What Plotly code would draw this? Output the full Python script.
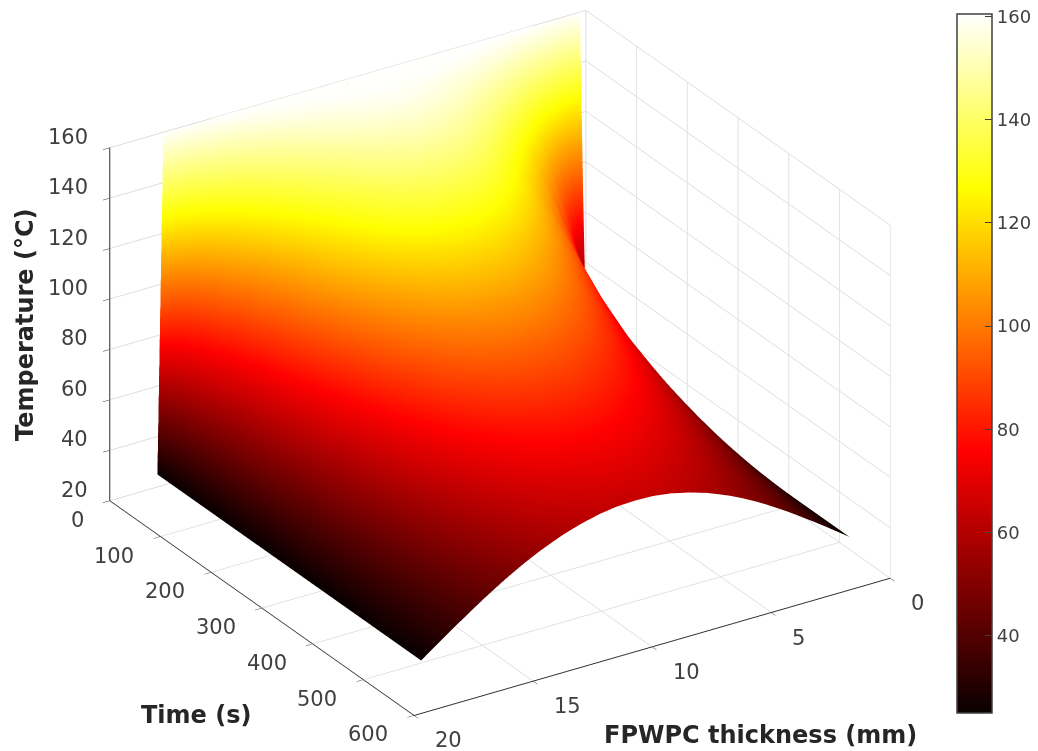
import plotly.graph_objects as go

thickness_mm = [0, 0.25, 0.5, 1, 1.5, 2, 2.5, 3, 3.5, 4, 4.5, 5, 5.5, 6, 6.75, 7.5, 8.25, 9,
                9.75, 10.5, 11.25, 12, 12.5, 13, 13.5, 14, 14.5, 15, 15.5, 16, 16.5, 17, 17.5, 17.75, 18]
time_s = [0, 5, 15, 30, 60, 100, 150, 200, 260, 320, 380, 450, 520]
temperature_c = [
    [25, 160, 160, 160, 160, 160, 160, 160, 160, 160, 160, 160, 160, 160, 160, 160, 160, 160, 160, 160, 160, 160, 160, 160, 160, 160, 160, 160, 160, 160, 160, 160, 160, 160, 25],
    [25, 52.5, 78.2, 119.1, 143.7, 154.7, 158.7, 159.7, 160, 160, 160, 160, 160, 160, 160, 160, 160, 160, 160, 160, 160, 160, 160, 160, 160, 160, 160, 159.7, 158.7, 154.7, 143.7, 119.1, 78.2, 52.5, 25],
    [25, 41.0, 56.6, 85.6, 109.9, 128.5, 141.8, 150.0, 155.0, 157.7, 159.1, 159.6, 159.9, 160, 160, 160, 160, 160, 160, 160, 160, 160, 159.9, 159.6, 159.1, 157.7, 155.0, 150.0, 141.8, 128.5, 109.9, 85.6, 56.6, 41.0, 25],
    [25, 36.3, 47.5, 69.1, 88.9, 106.1, 120.7, 132.2, 141.0, 147.7, 152.2, 155.3, 157.3, 158.5, 159.4, 159.7, 159.9, 160, 159.9, 159.7, 159.4, 158.5, 157.3, 155.3, 152.2, 147.7, 141.0, 132.2, 120.7, 106.1, 88.9, 69.1, 47.5, 36.3, 25],
    [25, 33.0, 40.9, 56.6, 71.6, 85.6, 98.4, 109.9, 119.9, 128.5, 135.7, 141.8, 146.4, 150.0, 153.9, 156.4, 157.6, 158.1, 157.6, 156.4, 153.9, 150.0, 146.4, 141.8, 135.7, 128.5, 119.9, 109.9, 98.4, 85.6, 71.6, 56.6, 40.9, 33.0, 25],
    [25, 31.2, 37.4, 49.7, 61.6, 73.1, 83.9, 94.1, 103.6, 112.0, 119.5, 126.1, 132.0, 136.9, 142.9, 146.9, 149.2, 149.9, 149.2, 146.9, 142.9, 136.9, 132.0, 126.1, 119.5, 112.0, 103.6, 94.1, 83.9, 73.1, 61.6, 49.7, 37.4, 31.2, 25],
    [25, 30.1, 35.1, 45.2, 55.1, 64.6, 73.7, 82.5, 90.9, 98.4, 105.6, 112.2, 117.8, 122.7, 129.0, 133.4, 136.0, 136.3, 136.0, 133.4, 129.0, 122.7, 117.8, 112.2, 105.6, 98.4, 90.9, 82.5, 73.7, 64.6, 55.1, 45.2, 35.1, 30.1, 25],
    [25, 29.2, 33.5, 41.9, 50.1, 58.2, 66.0, 73.6, 80.7, 87.4, 93.7, 99.4, 104.5, 109.1, 114.7, 118.8, 121.3, 121.8, 121.3, 118.8, 114.7, 109.1, 104.5, 99.4, 93.7, 87.4, 80.7, 73.6, 66.0, 58.2, 50.1, 41.9, 33.5, 29.2, 25],
    [25, 28.6, 32.1, 39.2, 46.2, 53.0, 59.6, 66.0, 72.0, 77.6, 82.9, 87.7, 92.1, 95.9, 100.7, 104.1, 106.2, 106.9, 106.2, 104.1, 100.7, 95.9, 92.1, 87.7, 82.9, 77.6, 72.0, 66.0, 59.6, 53.0, 46.2, 39.2, 32.1, 28.6, 25],
    [25, 28.0, 31.0, 37.0, 42.9, 48.6, 54.2, 59.5, 64.6, 69.4, 73.8, 77.9, 81.5, 84.8, 88.7, 91.6, 93.4, 94.0, 93.4, 91.6, 88.7, 84.8, 81.5, 77.9, 73.8, 69.4, 64.6, 59.5, 54.2, 48.6, 42.9, 37.0, 31.0, 28.0, 25],
    [25, 27.5, 30.1, 35.1, 40.0, 44.9, 49.6, 54.1, 58.3, 62.3, 66.1, 69.5, 72.6, 75.3, 78.7, 81.1, 82.6, 83.1, 82.6, 81.1, 78.7, 75.3, 72.6, 69.5, 66.1, 62.3, 58.3, 54.1, 49.6, 44.9, 40.0, 35.1, 30.1, 27.5, 25],
    [25, 27.1, 29.2, 33.3, 37.3, 41.3, 45.1, 48.8, 52.3, 55.6, 58.7, 61.5, 64.0, 66.2, 69.0, 71.0, 72.2, 72.6, 72.2, 71.0, 69.0, 66.2, 64.0, 61.5, 58.7, 55.6, 52.3, 48.8, 45.1, 41.3, 37.3, 33.3, 29.2, 27.1, 25],
    [25, 26.7, 28.4, 31.8, 35.1, 38.3, 41.5, 44.5, 47.4, 50.1, 52.6, 54.9, 56.9, 58.8, 61.0, 62.7, 63.7, 64.0, 63.7, 62.7, 61.0, 58.8, 56.9, 54.9, 52.6, 50.1, 47.4, 44.5, 41.5, 38.3, 35.1, 31.8, 28.4, 26.7, 25],
]

x_ticks = [0, 5, 10, 15, 20]
y_ticks = [0, 100, 200, 300, 400, 500, 600]
z_ticks = [20, 40, 60, 80, 100, 120, 140, 160]
bar_ticks = [40, 60, 80, 100, 120, 140, 160]

hot = [[0, "rgb(10,0,0)"], [0.375, "rgb(255,0,0)"], [0.75, "rgb(255,255,0)"], [1, "rgb(255,255,255)"]]
W, H = 1038, 751
FONT = "DejaVu Sans"
TICK = "#404040"
GRID = "#dddddd"

surface = go.Surface(
    x=thickness_mm, y=time_s, z=temperature_c,
    colorscale=hot, cmin=25, cmax=160.5,
    lighting=dict(ambient=1, diffuse=0, specular=0, fresnel=0, roughness=1),
    hoverinfo="skip",
    colorbar=dict(
        x=957 / W, xanchor="left", y=1 - 363.5 / H, yanchor="middle",
        thickness=35, thicknessmode="pixels", len=699, lenmode="pixels",
        xpad=0, ypad=0, outlinecolor=TICK, outlinewidth=1.5,
        ticks="inside", ticklen=7, tickcolor=TICK, tickwidth=1,
        tickvals=bar_ticks, tickfont=dict(family=FONT, size=18, color=TICK),
    ),
)


def axis(rng, ticks):
    return dict(
        range=rng, tickvals=ticks, title=dict(text=""), showticklabels=False,
        showbackground=False, showgrid=True, gridcolor=GRID, gridwidth=2,
        showline=True, linecolor="#303030", linewidth=2, zeroline=False,
        ticks="outside", ticklen=8, tickcolor="#303030", tickwidth=1,
        showspikes=False,
    )


tick_font = dict(family=FONT, size=21, color=TICK)
tick_text = (
    [dict(x=20, y=0, z=v, text=str(v), showarrow=False, xanchor="right", yanchor="middle",
          xshift=-20, yshift=11, font=tick_font) for v in z_ticks]
    + [dict(x=20, y=v, z=20, text=str(v), showarrow=False, xanchor="right", yanchor="middle",
            xshift=-24, yshift=-19, font=tick_font) for v in y_ticks]
    + [dict(x=v, y=600, z=20, text=str(v), showarrow=False, xanchor="left", yanchor="middle",
            xshift=19, yshift=-25, font=tick_font) for v in x_ticks]
)

R = 2.0
S = 1.505
SHIFT = 0.0374
TITLE = dict(family=FONT, size=24, color="#262626", weight="bold")
fig = go.Figure(surface)
fig.update_layout(
    width=W, height=H, margin=dict(l=0, r=0, t=0, b=0, autoexpand=False),
    paper_bgcolor="white",
    scene=dict(
        domain=dict(x=[0, 1000 / W], y=[0, 1]),
        xaxis=axis([0, 20], x_ticks),
        yaxis=axis([0, 600], y_ticks),
        zaxis=axis([20, 160], z_ticks),
        aspectmode="manual", aspectratio=dict(x=S, y=S, z=0.7 * S),
        annotations=tick_text,
        camera=dict(
            projection=dict(type="orthographic"),
            up=dict(x=0, y=0, z=1), center=dict(x=0, y=0, z=-SHIFT),
            eye=dict(x=0.4807 * R, y=0.7520 * R, z=0.4509 * R - SHIFT),
        ),
    ),
    annotations=[
        dict(text="FPWPC thickness (mm)", x=760 / W, y=1 - 735 / H, xref="paper", yref="paper",
             xanchor="center", yanchor="middle", showarrow=False, font=TITLE),
        dict(text="Time (s)", x=196 / W, y=1 - 715 / H, xref="paper", yref="paper",
             xanchor="center", yanchor="middle", showarrow=False, font=TITLE),
        dict(text="Temperature (°C)", x=25 / W, y=1 - 325 / H, xref="paper", yref="paper", textangle=-90,
             xanchor="center", yanchor="middle", showarrow=False, font=TITLE),
    ],
)
fig.write_html("out.html", config={"displayModeBar": False},
               post_script="document.body.style.margin='0';document.body.style.overflow='hidden';")
